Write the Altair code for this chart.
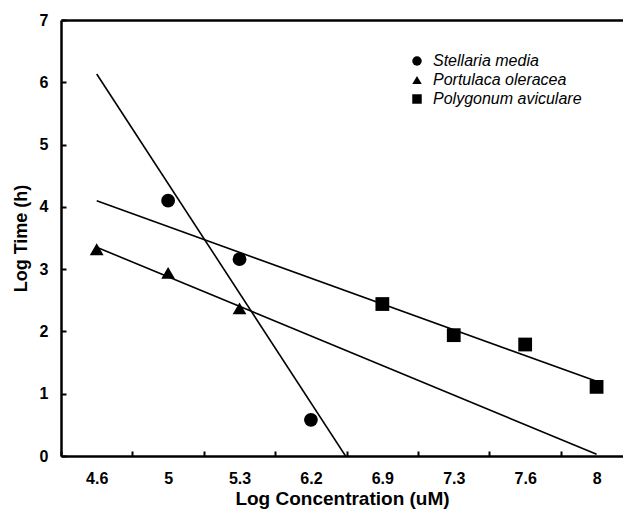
import json
import altair as alt
import pandas as pd

# ---- data ----
concentrations = ["4.6", "5", "5.3", "6.2", "6.9", "7.3", "7.6", "8"]
species = ["Stellaria media", "Portulaca oleracea", "Polygonum aviculare"]
shapes = ["circle", "triangle-up", "square"]

stellaria_x = ["5", "5.3", "6.2"]
stellaria_y = [4.10, 3.16, 0.58]
portulaca_x = ["4.6", "5", "5.3"]
portulaca_y = [3.32, 2.94, 2.37]
polygonum_x = ["6.9", "7.3", "7.6", "8"]
polygonum_y = [2.44, 1.94, 1.79, 1.11]

y_ticks = [0, 1, 2, 3, 4, 5, 6, 7]

rows = []
for name, xs, ys in zip(species, [stellaria_x, portulaca_x, polygonum_x],
                        [stellaria_y, portulaca_y, polygonum_y]):
    for xl, yv in zip(xs, ys):
        rows.append({"species": name, "conc": xl,
                     "idx": concentrations.index(xl), "logtime": yv})
df = pd.DataFrame(rows)

FONT = "Liberation Sans"
n = len(concentrations)
x_max = n - 0.63  # right part of the last category band is outside the picture
x_scale = alt.Scale(domain=[-0.5, x_max], nice=False, zero=False)
y_scale = alt.Scale(domain=[0, 7], nice=False)
shape_scale = alt.Scale(domain=species, range=shapes)

label_expr = "datum.value % 1 == 0 ? " + json.dumps(concentrations) + "[datum.value] : ''"
band_edges = [i - 0.5 for i in range(n + 1) if i - 0.5 <= x_max]

base = alt.Chart(df)

points = base.mark_point(filled=True, color="black", opacity=1, size=190).encode(
    x=alt.X("idx:Q", scale=x_scale,
            axis=alt.Axis(orient="bottom", values=list(range(n)), labelExpr=label_expr,
                          ticks=False, tickSize=0, grid=False,
                          domainColor="black", domainWidth=2.5,
                          labelFont=FONT, labelFontSize=16, labelFontWeight="bold",
                          labelColor="black", labelPadding=14, labelFlush=False,
                          labelOverlap=False,
                          title="Log Concentration (uM)", titleFont=FONT, titleFontSize=19,
                          titleFontWeight="bold", titleColor="black", titlePadding=3)),
    y=alt.Y("logtime:Q", scale=y_scale,
            axis=alt.Axis(orient="left", values=y_ticks, ticks=False, tickSize=0, grid=False,
                          domainColor="black", domainWidth=2.5,
                          labelFont=FONT, labelFontSize=16, labelFontWeight="bold",
                          labelColor="black", labelPadding=13, labelFlush=False,
                          title="Log Time (h)", titleFont=FONT, titleFontSize=18,
                          titleFontWeight="bold", titleColor="black", titlePadding=9)),
    shape=alt.Shape("species:N", scale=shape_scale,
                    legend=alt.Legend(title=None, orient="none", legendX=348, legendY=33,
                                      labelFont=FONT, labelFontSize=16, labelFontStyle="italic",
                                      labelColor="black", symbolSize=90,
                                      symbolFillColor="black", symbolStrokeWidth=0,
                                      labelOffset=8, rowPadding=3, padding=0)),
)

lines_two = base.transform_filter(
    alt.FieldOneOfPredicate(field="species", oneOf=species[1:])
).transform_regression(
    "idx", "logtime", groupby=["species"], extent=[0, n - 1]
).mark_line(color="black", strokeWidth=1.6).encode(
    x=alt.X("idx:Q", scale=x_scale,
            axis=alt.Axis(orient="bottom", values=band_edges, grid=False,
                          labels=False, domain=False, ticks=True, tickSize=5,
                          tickWidth=2, tickColor="black", offset=-5, title=None)),
    y=alt.Y("logtime:Q", scale=y_scale,
            axis=alt.Axis(orient="left", values=y_ticks, labels=False, domain=False,
                          grid=False, ticks=True, tickSize=5, tickWidth=2,
                          tickColor="black", offset=-5, title=None)),
    detail="species:N",
)

line_stellaria = base.transform_filter(
    alt.FieldEqualPredicate(field="species", equal=species[0])
).transform_regression(
    "idx", "logtime", groupby=["species"], extent=[0, n - 1]
).mark_line(color="black", strokeWidth=1.6, clip=True).encode(
    x=alt.X("idx:Q", scale=x_scale,
            axis=alt.Axis(orient="top", labels=False, ticks=False, domain=True, grid=False,
                          domainColor="black", domainWidth=2.5, title=None)),
    y=alt.Y("logtime:Q", scale=y_scale, axis=None),
    detail="species:N",
)

chart = alt.layer(points, lines_two, line_stellaria).resolve_axis(
    x="independent", y="independent"
).properties(
    width=562, height=436,
    autosize=alt.AutoSizeParams(type="none"),
    padding={"left": 53, "top": 12, "right": 0, "bottom": 56},
).configure(font=FONT).configure_view(stroke=None).configure_axis(grid=False)

chart.save("out.html", embed_options={"renderer": "svg", "actions": False})
